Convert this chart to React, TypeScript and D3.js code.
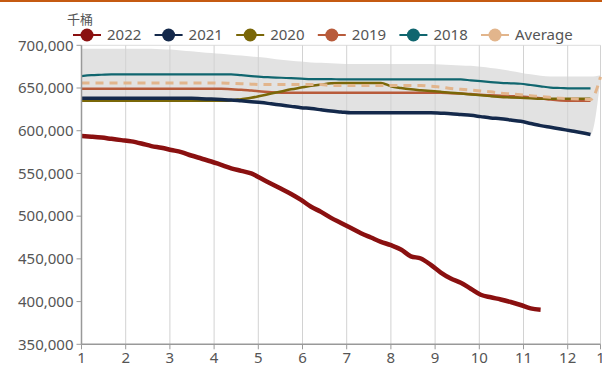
import React from "react";
import * as d3 from "d3";

const W = 602;
const H = 366;

const monthLabels = ["1", "2", "3", "4", "5", "6", "7", "8", "9", "10", "11", "12", "1"];
const yTicks = [350000, 400000, 450000, 500000, 550000, 600000, 650000, 700000];

const s2022 = [
  593800, 593000, 592000, 590500, 589000, 587500, 585000, 582000, 580000, 577500,
  575000, 571000, 567500, 564000, 560000, 556000, 553000, 550000, 544000, 538000,
  532000, 526000, 519000, 511000, 505000, 498000, 492000, 486000, 480000, 475000,
  470000, 466000, 461000, 453000, 450500, 443000, 434000, 427000, 422000, 415000,
  408000, 405000, 402500, 399500, 396000, 392000, 390500,
];

const s2021 = [
  638000, 638000, 638000, 638000, 638000, 638000, 638000, 638000, 638000, 638000,
  638000, 638000, 637500, 637000, 636500, 636000, 635000, 634000, 633000, 631500,
  630000, 628500, 627000, 626000, 624500, 623000, 622000, 621000, 621000, 621000,
  621000, 621000, 621000, 621000, 621000, 621000, 620500, 620000, 619000, 618000,
  616500, 615000, 614000, 612500, 611000, 608500, 606000, 604000, 602000, 600000,
  598000, 595500,
];

const s2020 = [
  635000, 635000, 635000, 635000, 635000, 635000, 635000, 635000, 635000, 635000,
  635000, 635000, 635000, 635000, 635000, 635500, 637000, 638500, 641000, 643500,
  646000, 648500, 650500, 652500, 654000, 655500, 656000, 656000, 656000, 656000,
  656000, 652000, 650000, 648500, 647500, 646500, 645500, 644500, 643500, 642500,
  641500, 640500, 639500, 639000, 638500, 638000, 637500, 637500, 637500, 637500,
  637500, 637500,
];

const s2019 = [
  649000, 649000, 649000, 649000, 649000, 649000, 649000, 649000, 649000, 649000,
  649000, 649000, 649000, 649000, 649000, 648500, 648000, 647000, 646000, 645000,
  644500, 644500, 644500, 644500, 644500, 644500, 644500, 644500, 644500, 644500,
  644500, 644500, 644500, 644500, 644500, 644500, 644500, 644000, 643500, 643000,
  642000, 641500, 641000, 640500, 640000, 639000, 638000, 636500, 635500, 635000,
  635000, 635000,
];

const s2018 = [
  664000, 665000, 665500, 666000, 666000, 666000, 666000, 666000, 666000, 666000,
  666000, 666000, 666000, 666000, 666000, 666000, 665000, 664000, 663000, 662500,
  662000, 661500, 661000, 660500, 660500, 660500, 660000, 660000, 660000, 660000,
  660000, 660000, 660000, 660000, 660000, 660000, 660000, 660000, 660000, 659000,
  658000, 657000, 656000, 655500, 655000, 653500, 652000, 650500, 650000, 649500,
  649500, 649500,
];

const sAvg = [
  656000, 656000, 656000, 656000, 656000, 656000, 656000, 656000, 656000, 656000,
  656000, 656000, 656000, 656000, 656000, 655500, 655000, 654500, 654000, 654000,
  654000, 654000, 654000, 654000, 654000, 653000, 653000, 653000, 653000, 653000,
  653000, 653000, 653000, 653000, 653000, 652000, 651000, 649500, 648500, 647500,
  646500, 645500, 644000, 643000, 642000, 641000, 640000, 639000, 638000, 637500,
  637000, 636500, 663000,
];

const bandHigh = [
  696000, 696000, 696000, 696000, 696000, 696000, 696000, 696000, 695500, 695000,
  694000, 693000, 692000, 691000, 690000, 689000, 688000, 687000, 686000, 684500,
  683000, 682000, 681000, 680000, 679500, 679000, 678500, 678000, 678000, 678000,
  678000, 678000, 678000, 678000, 678000, 678000, 677500, 677000, 676500, 676000,
  675000, 673500, 672000, 670000, 668000, 666000, 664500, 663500, 663500, 663500,
  663500, 663500, 665000,
];
const bandLowLastWeek = 661000;

const series = [
  { name: "2022", color: "#8a1010", data: s2022, width: 4.5, dash: "" },
  { name: "2021", color: "#14294b", data: s2021, width: 3.5, dash: "" },
  { name: "2020", color: "#7a6708", data: s2020, width: 2.5, dash: "" },
  { name: "2019", color: "#b85b3b", data: s2019, width: 2.5, dash: "" },
  { name: "2018", color: "#10666f", data: s2018, width: 2.2, dash: "" },
  { name: "Average", color: "#e2b58c", data: sAvg, width: 3, dash: "8,6" },
];

const drawOrder = ["2018", "2019", "2020", "2021", "Average", "2022"];

export default function App() {
  const left = 81.5, right = 600.5, top = 45.3, bottom = 344.3;
  const x = d3.scaleLinear().domain([0, 52]).range([left, right]);
  const xm = d3.scaleLinear().domain([1, 1 + (right - left) / 44.2]).range([left, right]);
  const y = d3.scaleLinear().domain([350000, 700000]).range([bottom, top]);

  const weeks = d3.range(bandHigh.length);
  const bandLow = weeks.map((i) =>
    i < 52 ? (d3.min([s2021[i], s2020[i], s2019[i], s2018[i]]) as number) : bandLowLastWeek
  );

  const area = d3
    .area<number>()
    .x((i) => x(i))
    .y0((i) => y(bandLow[i]))
    .y1((i) => y(bandHigh[i]))
    .curve(d3.curveMonotoneX);

  const line = d3
    .line<number>()
    .x((_, i) => x(i))
    .y((v) => y(v))
    .curve(d3.curveMonotoneX);

  const monthPos = monthLabels.map((_, k) => (k < 12 ? xm(k + 1) : right));
  const font = "'Noto Sans', 'Noto Sans CJK SC', sans-serif";

  return (
    <svg
      width={W}
      height={H}
      style={{ position: "absolute", left: 0, top: 0, background: "#fff" }}
      fontFamily={font}
    >
      <rect x={0} y={0} width={W} height={2} fill="#c55a11" />
      <path d={area(weeks) || ""} fill="#e2e2e2" />
      <line x1={left} x2={right} y1={top} y2={top} stroke="#dcdcdc" />
      {monthPos.map((p, k) =>
        k === 0 ? null : (
          <line key={k} x1={p} x2={p} y1={top} y2={bottom} stroke="#d2d2d2" strokeWidth={1} />
        )
      )}
      {drawOrder.map((n) => {
        const s = series.find((q) => q.name === n)!;
        return (
          <path
            key={n}
            d={line(s.data) || ""}
            fill="none"
            stroke={s.color}
            strokeWidth={s.width}
            strokeDasharray={s.dash || undefined}
            strokeLinejoin="round"
          />
        );
      })}
      <line x1={left} x2={left} y1={top} y2={bottom} stroke="#999" strokeWidth={1.5} />
      <line x1={left} x2={right} y1={bottom} y2={bottom} stroke="#999" strokeWidth={1.5} />
      {yTicks.map((t) => (
        <g key={t}>
          <line x1={left - 5} x2={left} y1={y(t)} y2={y(t)} stroke="#999" />
          <text
            x={left - 8}
            y={y(t)}
            dy="0.35em"
            textAnchor="end"
            fontSize={15}
            fill="#555"
          >
            {d3.format(",")(t)}
          </text>
        </g>
      ))}
      {monthPos.map((p, k) => (
        <g key={k}>
          <line x1={p} x2={p} y1={bottom} y2={bottom + 5} stroke="#999" />
          <text x={p} y={bottom + 19} textAnchor="middle" fontSize={15} fill="#555">
            {monthLabels[k]}
          </text>
        </g>
      ))}
      <text x={67} y={24} fontSize={13} fill="#555">
        千桶
      </text>
      {series.map((s, i) => {
        const cx = 87 + i * 81.6;
        return (
          <g key={s.name}>
            <line x1={cx - 14} x2={cx + 14} y1={35} y2={35} stroke={s.color} strokeWidth={2} />
            <circle cx={cx} cy={35} r={6.5} fill={s.color} />
            <text x={cx + 20} y={35} dy="0.35em" fontSize={15} fill="#555">
              {s.name}
            </text>
          </g>
        );
      })}
    </svg>
  );
}
